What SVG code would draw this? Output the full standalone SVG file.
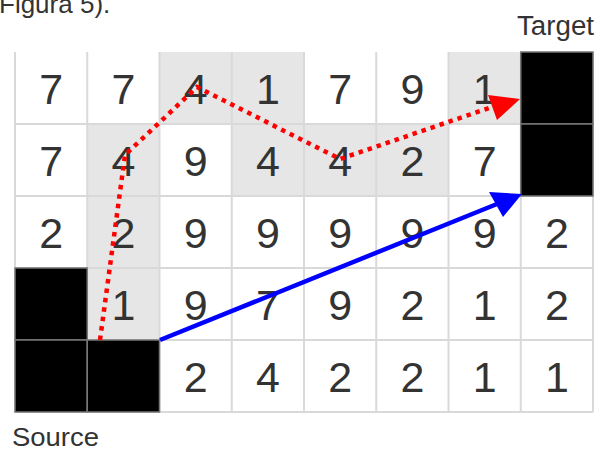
<svg xmlns="http://www.w3.org/2000/svg" width="604" height="451" viewBox="0 0 604 451">
<defs>
<style>
.n{font-family:"Liberation Sans",Arial,sans-serif;font-size:43px;fill:#333;text-anchor:middle}
.lbl{font-family:"Liberation Sans",Arial,sans-serif;fill:#333}
.g{fill:#e6e6e6}
.w{fill:#fff}
.b{fill:#000;stroke:#777;stroke-width:1.5}
.grid{stroke:#d9d9d9;stroke-width:2;fill:none}
.red{fill:none;stroke:#f00;stroke-width:4.5;stroke-dasharray:4.5 5}
.blue{fill:none;stroke:#00f;stroke-width:4.5}
</style>
</defs>
<rect width="604" height="451" fill="#fff"/>
<text class="lbl" x="-1" y="13" font-size="26" fill="#222">Figura 5).</text>
<text class="lbl" x="517" y="35" font-size="27" textLength="77" lengthAdjust="spacingAndGlyphs">Target</text>
<text class="lbl" x="12" y="446" font-size="25.5" textLength="87" lengthAdjust="spacingAndGlyphs">Source</text>

<g id="cells">
<rect class="g" x="159.5" y="52" width="144.5" height="72"/>
<rect class="g" x="448.5" y="52" width="72.25" height="72"/>
<rect class="g" x="87.25" y="124" width="72.25" height="72"/>
<rect class="g" x="231.75" y="124" width="216.75" height="72"/>
<rect class="g" x="87.25" y="196" width="72.25" height="144"/>
</g>
<g id="grid" class="grid">
<path d="M15 52V412M87.25 52V412M159.5 52V412M231.75 52V412M304 52V412M376.25 52V412M448.5 52V412M520.75 52V412M593 52V412"/>
<path d="M15 124H593M15 196H593M15 268H593M15 340H593M15 412H593"/>
</g>
<g id="black">
<rect class="b" x="520.75" y="52" width="72.25" height="72"/>
<rect class="b" x="520.75" y="124" width="72.25" height="72"/>
<rect class="b" x="15" y="268" width="72.25" height="72"/>
<rect class="b" x="15" y="340" width="72.25" height="72"/>
<rect class="b" x="87.25" y="340" width="72.25" height="72"/>
</g>
<g id="numbers">
<text class="n" x="51.1" y="103.5">7</text><text class="n" x="123.4" y="103.5">7</text><text class="n" x="195.6" y="103.5">4</text><text class="n" x="267.9" y="103.5">1</text><text class="n" x="340.1" y="103.5">7</text><text class="n" x="412.4" y="103.5">9</text><text class="n" x="484.6" y="103.5">1</text>
<text class="n" x="51.1" y="175.5">7</text><text class="n" x="123.4" y="175.5">4</text><text class="n" x="195.6" y="175.5">9</text><text class="n" x="267.9" y="175.5">4</text><text class="n" x="340.1" y="175.5">4</text><text class="n" x="412.4" y="175.5">2</text><text class="n" x="484.6" y="175.5">7</text>
<text class="n" x="51.1" y="247.5">2</text><text class="n" x="123.4" y="247.5">2</text><text class="n" x="195.6" y="247.5">9</text><text class="n" x="267.9" y="247.5">9</text><text class="n" x="340.1" y="247.5">9</text><text class="n" x="412.4" y="247.5">9</text><text class="n" x="484.6" y="247.5">9</text><text class="n" x="556.9" y="247.5">2</text>
<text class="n" x="123.4" y="319.5">1</text><text class="n" x="195.6" y="319.5">9</text><text class="n" x="267.9" y="319.5">7</text><text class="n" x="340.1" y="319.5">9</text><text class="n" x="412.4" y="319.5">2</text><text class="n" x="484.6" y="319.5">1</text><text class="n" x="556.9" y="319.5">2</text>
<text class="n" x="195.6" y="391.5">2</text><text class="n" x="267.9" y="391.5">4</text><text class="n" x="340.1" y="391.5">2</text><text class="n" x="412.4" y="391.5">2</text><text class="n" x="484.6" y="391.5">1</text><text class="n" x="556.9" y="391.5">1</text>
</g>
<g id="connectors">
<polyline class="red" points="100,340 125,155 197,87 340,159 492,107"/>
<polygon fill="#f00" points="520,99 488,95 497,120"/>
<line class="blue" x1="160" y1="340" x2="497" y2="204"/>
<polygon fill="#00f" points="522,194 489,192 503,217"/>
</g>
</svg>
